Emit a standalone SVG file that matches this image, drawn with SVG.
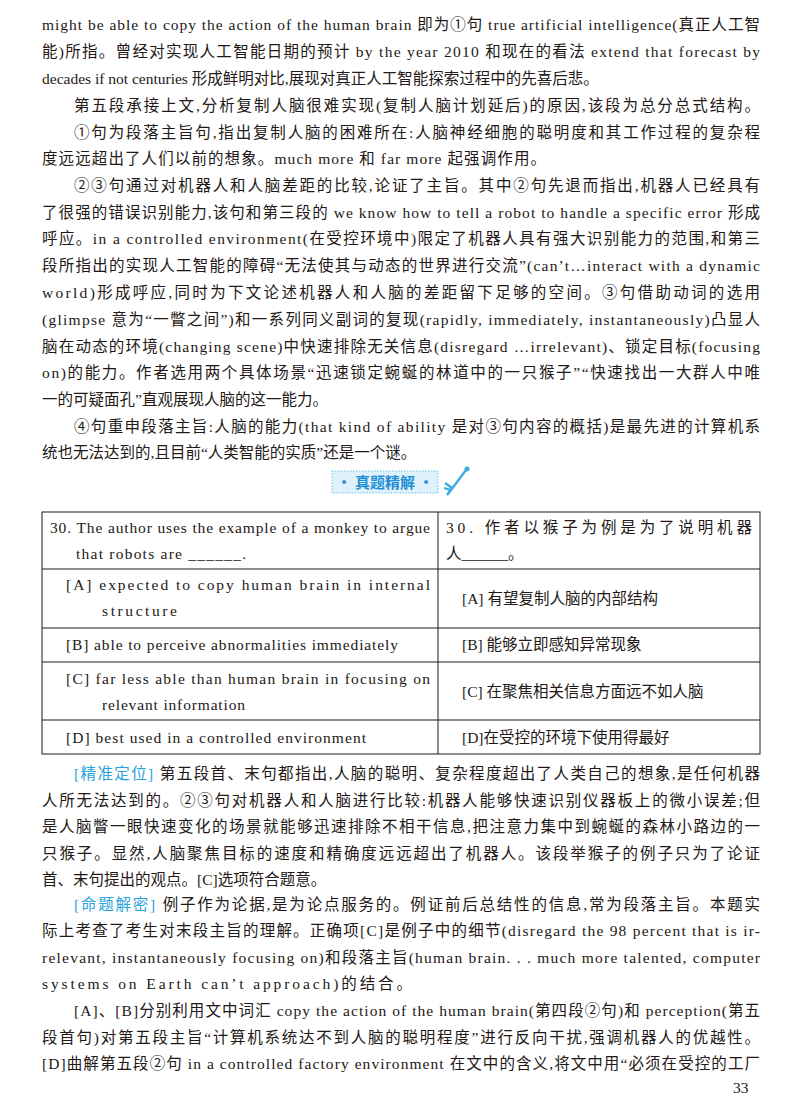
<svg xmlns="http://www.w3.org/2000/svg" width="800" height="1115" viewBox="0 0 800 1115">
<style>
text{font-family:"Liberation Serif","Noto Sans CJK SC",serif;font-size:15.5px;fill:#231815}
.b{fill:#29a3dc}
.t{fill:#1f8fd6;font-family:"Noto Sans CJK SC",sans-serif;font-size:15px;font-weight:bold}
line{stroke:#231815;stroke-width:1}
</style>
<rect width="800" height="1115" fill="#fff"/>
<g id="body1">
<text x="42" y="30" textLength="718" lengthAdjust="spacing">might be able to copy the action of the human brain 即为①句 true artificial intelligence(真正人工智</text>
<text x="42" y="57" textLength="718" lengthAdjust="spacing">能)所指。曾经对实现人工智能日期的预计 by the year 2010 和现在的看法 extend that forecast by</text>
<text x="42" y="84">decades if not centuries 形成鲜明对比,展现对真正人工智能探索过程中的先喜后悲。</text>
<text x="74" y="111" textLength="686" lengthAdjust="spacing">第五段承接上文,分析复制人脑很难实现(复制人脑计划延后)的原因,该段为总分总式结构。</text>
<text x="74" y="138" textLength="686" lengthAdjust="spacing">①句为段落主旨句,指出复制人脑的困难所在:人脑神经细胞的聪明度和其工作过程的复杂程</text>
<text x="42" y="164" textLength="504" lengthAdjust="spacing">度远远超出了人们以前的想象。much more 和 far more 起强调作用。</text>
<text x="74" y="191" textLength="686" lengthAdjust="spacing">②③句通过对机器人和人脑差距的比较,论证了主旨。其中②句先退而指出,机器人已经具有</text>
<text x="42" y="218" textLength="718" lengthAdjust="spacing">了很强的错误识别能力,该句和第三段的 we know how to tell a robot to handle a specific error 形成</text>
<text x="42" y="244" textLength="718" lengthAdjust="spacing">呼应。in a controlled environment(在受控环境中)限定了机器人具有强大识别能力的范围,和第三</text>
<text x="42" y="271" textLength="718" lengthAdjust="spacing">段所指出的实现人工智能的障碍“无法使其与动态的世界进行交流”(can’t…interact with a dynamic</text>
<text x="42" y="298" textLength="718" lengthAdjust="spacing">world)形成呼应,同时为下文论述机器人和人脑的差距留下足够的空间。③句借助动词的选用</text>
<text x="42" y="325" textLength="718" lengthAdjust="spacing">(glimpse 意为“一瞥之间”)和一系列同义副词的复现(rapidly, immediately, instantaneously)凸显人</text>
<text x="42" y="352" textLength="718" lengthAdjust="spacing">脑在动态的环境(changing scene)中快速排除无关信息(disregard …irrelevant)、锁定目标(focusing</text>
<text x="42" y="378" textLength="718" lengthAdjust="spacing">on)的能力。作者选用两个具体场景“迅速锁定蜿蜒的林道中的一只猴子”“快速找出一大群人中唯</text>
<text x="42" y="405">一的可疑面孔”直观展现人脑的这一能力。</text>
<text x="74" y="432" textLength="686" lengthAdjust="spacing">④句重申段落主旨:人脑的能力(that kind of ability 是对③句内容的概括)是最先进的计算机系</text>
<text x="42" y="458">统也无法达到的,且目前“人类智能的实质”还是一个谜。</text>
</g>
<g id="banner">
<rect x="332" y="471" width="106" height="22" fill="#dff1fb" stroke="#6cc3ec" stroke-dasharray="1.5 1.5"/>
<text class="t" x="385" y="488" text-anchor="middle">· 真题精解 ·</text>
<path d="M448 494 L466 470 M444 488 l7 2 M445 483 l7 5 M447 495 l5 -7" stroke="#39a9e0" stroke-width="2.2" fill="none"/>
<circle cx="467" cy="469" r="2.5" fill="#39a9e0"/>
</g>
<g id="table">
<rect x="42" y="512" width="718" height="242" fill="none" stroke="#231815"/>
<line x1="438" y1="512" x2="438" y2="754"/>
<line x1="42" y1="569" x2="760" y2="569"/>
<line x1="42" y1="628" x2="760" y2="628"/>
<line x1="42" y1="662" x2="760" y2="662"/>
<line x1="42" y1="720" x2="760" y2="720"/>
<text x="50" y="533" textLength="380" lengthAdjust="spacing">30. The author uses the example of a monkey to argue</text>
<text x="76" y="559" textLength="170" lengthAdjust="spacing">that robots are ______.</text>
<text x="446" y="533" textLength="306" lengthAdjust="spacing">30. 作者以猴子为例是为了说明机器</text>
<text x="446" y="559">人______。</text>
<text x="66" y="590" textLength="364" lengthAdjust="spacing">[A] expected to copy human brain in internal</text>
<text x="102" y="616" textLength="75" lengthAdjust="spacing">structure</text>
<text x="462" y="604">[A] 有望复制人脑的内部结构</text>
<text x="66" y="650" textLength="332" lengthAdjust="spacing">[B] able to perceive abnormalities immediately</text>
<text x="462" y="650">[B] 能够立即感知异常现象</text>
<text x="66" y="684" textLength="364" lengthAdjust="spacing">[C] far less able than human brain in focusing on</text>
<text x="102" y="710" textLength="143" lengthAdjust="spacing">relevant information</text>
<text x="462" y="697">[C] 在聚焦相关信息方面远不如人脑</text>
<text x="66" y="743" textLength="300" lengthAdjust="spacing">[D] best used in a controlled environment</text>
<text x="462" y="743">[D]在受控的环境下使用得最好</text>
</g>
<g id="body2">
<text x="74" y="779" textLength="686" lengthAdjust="spacing"><tspan class="b">[精准定位]</tspan> 第五段首、末句都指出,人脑的聪明、复杂程度超出了人类自己的想象,是任何机器</text>
<text x="42" y="806" textLength="718" lengthAdjust="spacing">人所无法达到的。②③句对机器人和人脑进行比较:机器人能够快速识别仪器板上的微小误差;但</text>
<text x="42" y="832" textLength="718" lengthAdjust="spacing">是人脑瞥一眼快速变化的场景就能够迅速排除不相干信息,把注意力集中到蜿蜒的森林小路边的一</text>
<text x="42" y="859" textLength="718" lengthAdjust="spacing">只猴子。显然,人脑聚焦目标的速度和精确度远远超出了机器人。该段举猴子的例子只为了论证</text>
<text x="42" y="885">首、末句提出的观点。[C]选项符合题意。</text>
<text x="74" y="910" textLength="686" lengthAdjust="spacing"><tspan class="b">[命题解密]</tspan> 例子作为论据,是为论点服务的。例证前后总结性的信息,常为段落主旨。本题实</text>
<text x="42" y="936" textLength="718" lengthAdjust="spacing">际上考查了考生对末段主旨的理解。正确项[C]是例子中的细节(disregard the 98 percent that is ir-</text>
<text x="42" y="963" textLength="718" lengthAdjust="spacing">relevant, instantaneously focusing on)和段落主旨(human brain. . . much more talented, computer</text>
<text x="42" y="989" textLength="370" lengthAdjust="spacing">systems on Earth can’t approach)的结合。</text>
<text x="74" y="1016" textLength="686" lengthAdjust="spacing">[A]、[B]分别利用文中词汇 copy the action of the human brain(第四段②句)和 perception(第五</text>
<text x="42" y="1043" textLength="718" lengthAdjust="spacing">段首句)对第五段主旨“计算机系统达不到人脑的聪明程度”进行反向干扰,强调机器人的优越性。</text>
<text x="42" y="1069" textLength="718" lengthAdjust="spacing">[D]曲解第五段②句 in a controlled factory environment 在文中的含义,将文中用“必须在受控的工厂</text>
<text x="733" y="1093" font-size="14">33</text>
</g>
</svg>
